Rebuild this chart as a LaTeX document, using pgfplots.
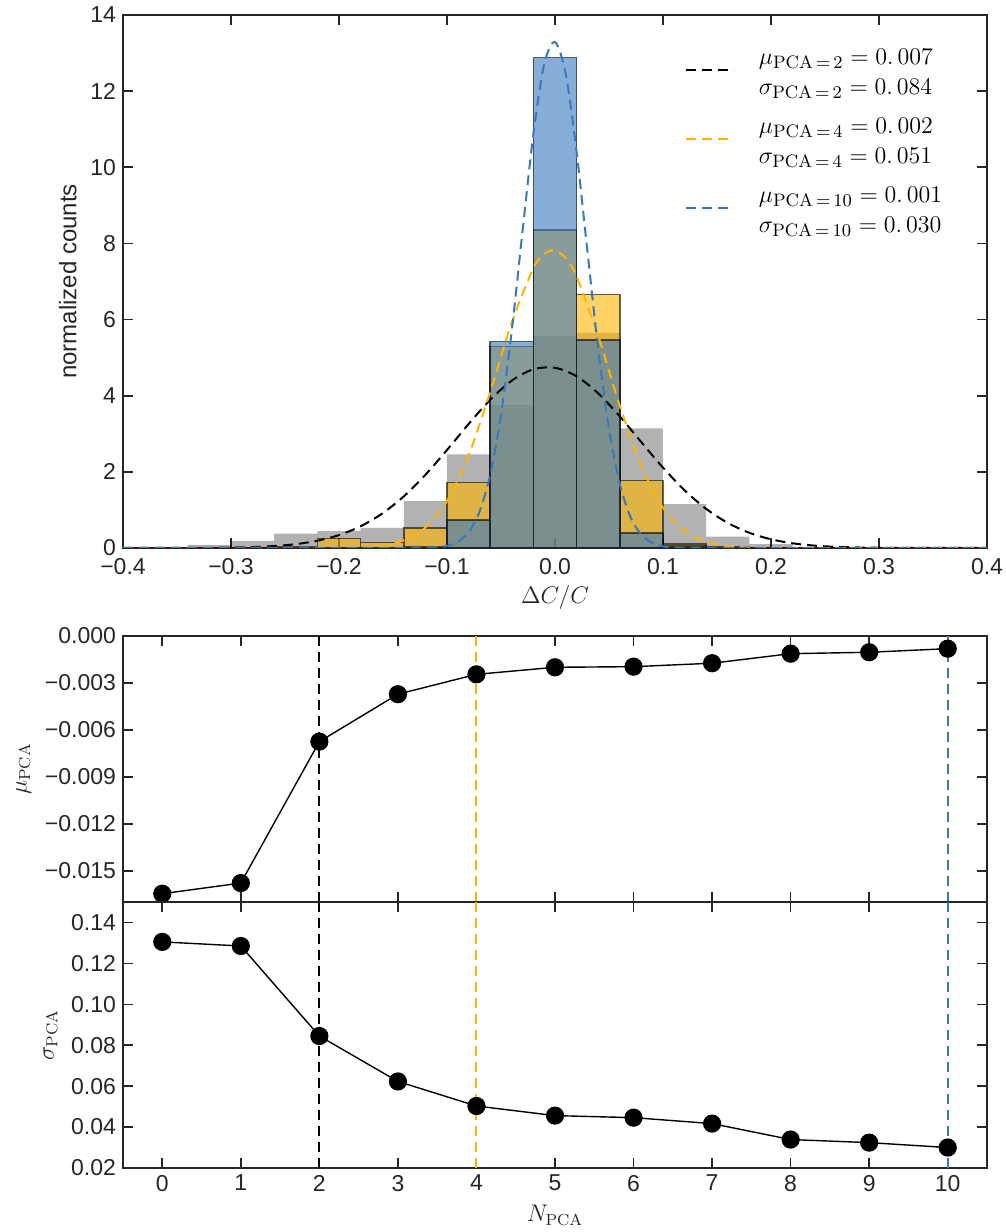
\documentclass[border=0pt]{standalone}
\usepackage[no-math]{fontspec}
\setmainfont{Liberation Sans}
\usepackage{pgfplots}
\pgfplotsset{compat=1.18}
\definecolor{axgray}{HTML}{262626}
\definecolor{pcayel}{HTML}{FFB400}
\definecolor{pcablue}{HTML}{3778BF}

\newcommand{\legtwo}[2]{\begin{tabular}[t]{@{}l@{}}#1\\#2\end{tabular}}

\pgfplotsset{
  panel/.style={
    scale only axis, width=432pt,
    axis line style={axgray, line width=1pt},
    every tick/.style={axgray, line width=0.8pt},
    major tick length=5pt,
    tick align=inside,
    tick label style={font=\fontsize{11.5}{13}\selectfont, text=axgray},
    label style={font=\fontsize{12}{14}\selectfont, text=axgray},
    /pgf/number format/assume math mode=true,
    scaled ticks=false,
  },
  gauss/.style={line width=1pt, dash pattern=on 5pt off 3pt, smooth},
  vline/.style={line width=1pt, dash pattern=on 5pt off 3pt},
}

\begin{document}
\begin{tikzpicture}
\useasboundingbox (-61.5pt,-32pt) rectangle (441.5pt,584pt);

% histogram panel
\begin{axis}[panel, at={(0,310pt)}, anchor=south west, height=266.5pt,
  xmin=-0.4, xmax=0.4, ymin=0, ymax=14,
  xtick={-0.4,-0.3,-0.2,-0.1,0,0.1,0.2,0.3,0.4},
  xticklabels={−0.4,−0.3,−0.2,−0.1,0.0,0.1,0.2,0.3,0.4},
  xticklabel style={yshift=-1.5pt},
  xlabel style={yshift=1.5pt},
  ytick={0,2,...,14},
  xlabel={$\Delta C/C$}, ylabel={normalized counts},
  legend cell align=left,
  legend image code/.code={\draw[#1] (0pt,-7.5pt) -- (24pt,-7.5pt);},
  legend style={draw=none, fill=none, at={(0.65,0.955)}, anchor=north west,
    font=\fontsize{12.5}{15}\selectfont, row sep=18.5pt, column sep=10pt, inner sep=0pt},
]
\addplot[forget plot, ybar interval, fill=black, fill opacity=0.3, draw=none] coordinates {
(-0.34,0.08) (-0.30,0.19) (-0.26,0.38) (-0.22,0.44) (-0.18,0.53) (-0.14,1.23)
(-0.10,2.46) (-0.06,3.76) (-0.02,5.57) (0.02,5.65) (0.06,3.14) (0.10,1.15)
(0.14,0.30) (0.18,0.10) (0.22,0.02) (0.26,0)};
\addplot[forget plot, ybar interval, fill=pcayel, fill opacity=0.6, draw=black, draw opacity=0.6, line width=0.75pt] coordinates {
(-0.26,0.02) (-0.22,0.25) (-0.18,0.14) (-0.14,0.52) (-0.10,1.72) (-0.06,5.29)
(-0.02,8.35) (0.02,6.66) (0.06,1.77) (0.10,0.10) (0.14,0.02) (0.18,0)};
\addplot[forget plot, ybar interval, fill=pcablue, fill opacity=0.6, draw=black, draw opacity=0.6, line width=0.75pt] coordinates {
(-0.14,0.02) (-0.10,0.73) (-0.06,5.42) (-0.02,12.88) (0.02,5.46) (0.06,0.39)
(0.10,0.05) (0.14,0)};

\addplot[gauss, black] coordinates {
(-0.40,0.0001) (-0.36,0.0007) (-0.32,0.0046) (-0.28,0.024) (-0.26,0.051) (-0.24,0.101)
(-0.22,0.191) (-0.20,0.339) (-0.18,0.570) (-0.16,0.904) (-0.14,1.356) (-0.12,1.922)
(-0.10,2.574) (-0.08,3.256) (-0.06,3.893) (-0.04,4.397) (-0.02,4.694) (0,4.733)
(0.02,4.511) (0.04,4.062) (0.06,3.456) (0.08,2.778) (0.10,2.110) (0.12,1.515)
(0.14,1.027) (0.16,0.658) (0.18,0.399) (0.20,0.228) (0.22,0.123) (0.24,0.063)
(0.26,0.030) (0.28,0.014) (0.30,0.006) (0.32,0.0024) (0.36,0.0003) (0.40,0)};
\addlegendentry{\legtwo{$\mu_{\mathrm{PCA}\,=\,2}=0.\,007$}{$\sigma_{\mathrm{PCA}\,=\,2}=0.\,084$}}
\addplot[gauss, pcayel] coordinates {
(-0.40,0) (-0.30,0) (-0.24,0.0001) (-0.20,0.004) (-0.18,0.018) (-0.16,0.064)
(-0.14,0.201) (-0.12,0.538) (-0.10,1.234) (-0.08,2.429) (-0.06,4.097) (-0.04,5.926)
(-0.02,7.350) (-0.01,7.726) (0,7.816) (0.01,7.608) (0.02,7.128) (0.04,5.573)
(0.06,3.736) (0.08,2.148) (0.10,1.059) (0.12,0.447) (0.14,0.162) (0.16,0.050)
(0.18,0.013) (0.20,0.003) (0.24,0) (0.30,0) (0.40,0)};
\addlegendentry{\legtwo{$\mu_{\mathrm{PCA}\,=\,4}=0.\,002$}{$\sigma_{\mathrm{PCA}\,=\,4}=0.\,051$}}
\addplot[gauss, pcablue] coordinates {
(-0.40,0) (-0.30,0) (-0.20,0) (-0.14,0.0003) (-0.13,0.0013) (-0.12,0.005) (-0.11,0.018)
(-0.10,0.057) (-0.09,0.163) (-0.08,0.415) (-0.07,0.944) (-0.06,1.923) (-0.05,3.503)
(-0.04,5.714) (-0.03,8.337) (-0.02,10.88) (-0.01,12.71) (0,13.29) (0.01,12.44)
(0.02,10.41) (0.03,7.80) (0.04,5.227) (0.05,3.135) (0.06,1.683) (0.07,0.808)
(0.08,0.348) (0.09,0.134) (0.10,0.046) (0.11,0.014) (0.12,0.004) (0.13,0.001)
(0.14,0.0002) (0.20,0) (0.30,0) (0.40,0)};
\addlegendentry{\legtwo{$\mu_{\mathrm{PCA}\,=\,10}=0.\,001$}{$\sigma_{\mathrm{PCA}\,=\,10}=0.\,030$}}
\end{axis}

% mean panel
\begin{axis}[panel, at={(0,133pt)}, anchor=south west, height=133pt,
  xmin=-0.5, xmax=10.5, ymin=-0.017, ymax=0,
  xtick={0,1,...,10}, xticklabels={},
  ytick={-0.015,-0.012,-0.009,-0.006,-0.003,0},
  yticklabels={−0.015,−0.012,−0.009,−0.006,−0.003,0.000},
  ylabel={$\mu_{\mathrm{PCA}}$},
]
\addplot[black, line width=0.7pt, mark=*, mark size=4.2pt] coordinates {
(0,-0.01647) (1,-0.01579) (2,-0.00675) (3,-0.00372) (4,-0.00245) (5,-0.00200)
(6,-0.00196) (7,-0.00174) (8,-0.00113) (9,-0.00104) (10,-0.00081)};
\addplot[vline, black] coordinates {(2,-0.017) (2,0)};
\addplot[vline, pcayel] coordinates {(4,-0.017) (4,0)};
\addplot[vline, pcablue] coordinates {(10,-0.017) (10,0)};
\end{axis}

% width panel
\begin{axis}[panel, at={(0,0)}, anchor=south west, height=133pt,
  xmin=-0.5, xmax=10.5, ymin=0.02, ymax=0.15,
  xtick={0,1,...,10},
  ytick={0.02,0.04,0.06,0.08,0.10,0.12,0.14},
  yticklabels={0.02,0.04,0.06,0.08,0.10,0.12,0.14},
  xlabel={$N_{\mathrm{PCA}}$}, ylabel={$\sigma_{\mathrm{PCA}}$},
]
\addplot[black, line width=0.7pt, mark=*, mark size=4.2pt] coordinates {
(0,0.1305) (1,0.1285) (2,0.0845) (3,0.0623) (4,0.0503) (5,0.0456)
(6,0.0446) (7,0.0417) (8,0.0339) (9,0.0324) (10,0.0300)};
\addplot[vline, black] coordinates {(2,0.02) (2,0.15)};
\addplot[vline, pcayel] coordinates {(4,0.02) (4,0.15)};
\addplot[vline, pcablue] coordinates {(10,0.02) (10,0.15)};
\end{axis}
\end{tikzpicture}
\end{document}
